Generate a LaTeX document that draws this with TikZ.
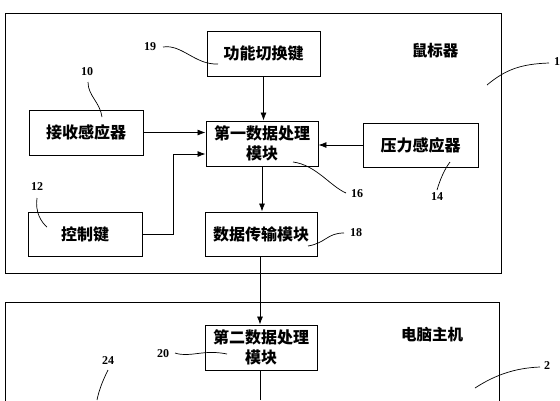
\documentclass[tikz,border=0pt]{standalone}
\usepackage{fontspec}
\setmainfont{Liberation Serif}
\newfontfamily\cjk{Noto Sans CJK SC}
\usetikzlibrary{arrows.meta}
\tikzset{
  box/.style={draw, line width=0.9pt, rectangle, align=center, inner sep=0pt,
    font=\cjk\bfseries\fontsize{16}{20}\selectfont},
  frame/.style={draw, line width=0.9pt},
  arr/.style={line width=0.8pt, -{Latex[length=8pt,width=6pt]}},
  lead/.style={line width=0.7pt},
  num/.style={font=\bfseries\fontsize{12}{12}\selectfont, inner sep=0pt},
  title/.style={font=\cjk\bfseries\fontsize{15.5}{15.5}\selectfont, inner sep=0pt}
}
\begin{document}
\begin{tikzpicture}[x=1pt,y=-1pt]
\useasboundingbox (0,0) rectangle (560,400);
\fill[white] (0,0) rectangle (560,400);
% outer frames
\draw[frame] (5,13) rectangle (501,273);
\begin{scope}
\clip (0,0) rectangle (560,400);
\draw[frame] (5,410) -- (5,302) -- (499,302) -- (499,410);
\end{scope}
% boxes
\node[box, minimum width=113pt, minimum height=45pt] (sw) at (263.5,53.5) {功能切换键};
\node[box, minimum width=114pt, minimum height=45pt] (rx) at (86,132.5) {接收感应器};
\node[box, minimum width=112pt, minimum height=45pt] (p1) at (262,143.5) {第一数据处理\\模块};
\node[box, minimum width=115pt, minimum height=44pt] (pr) at (420.5,145) {压力感应器};
\node[box, minimum width=114pt, minimum height=44pt] (ck) at (85,234) {控制键};
\node[box, minimum width=112pt, minimum height=44pt] (tx) at (261,234) {数据传输模块};
\node[box, minimum width=112pt, minimum height=45pt] (p2) at (261,347.5) {第二数据处理\\模块};
% titles
\node[title] (t1) at (435,51) {鼠标器};
\node[title] (t2) at (432,335) {电脑主机};
% connectors
\draw[arr] (sw.south) -- (sw.south |- p1.north);
\draw[arr] (rx.east) -- (rx.east -| p1.west);
\coordinate (c1) at (173,234);
\coordinate (c2) at (173,154);
\draw[arr] (ck.east) -- (c1) -- (c2) -- (c2 -| p1.west);
\draw[arr] (pr.west) -- (pr.west -| p1.east);
\draw[arr] (p1.south -| 262,0) -- (262,0 |- tx.north);
\draw[arr] (tx.south -| 260,0) -- (260,0 |- p2.north);
\coordinate (bot) at (260,400);
\draw[line width=0.8pt] (p2.south -| bot) -- (bot);
% reference numbers
\node[num] (n19) at (150,47) {19};
\draw[lead] (163,47) .. controls (182,44) and (195,65) .. (218,64);
\node[num] (n10) at (87,72) {10};
\draw[lead] (88,82) .. controls (88,96) and (100,102) .. (102,117);
\node[num] (n12) at (37,187) {12};
\draw[lead] (37,198) .. controls (35,212) and (41,222) .. (47,227);
\node[num] (n1) at (557,62) {1};
\draw[lead] (549,63) .. controls (520,64) and (505,70) .. (487,85);
\node[num] (n16) at (357,194) {16};
\draw[lead] (293,162) .. controls (316,165) and (330,186) .. (346,193);
\node[num] (n14) at (437,197) {14};
\draw[lead] (450,162) .. controls (444,170) and (440,180) .. (437,190);
\node[num] (n18) at (356,233) {18};
\draw[lead] (308,246) .. controls (326,243) and (327,233) .. (344,233);
\node[num] (n2) at (547,366) {2};
\draw[lead] (540,367) .. controls (515,368) and (495,375) .. (475,388);
\node[num] (n20) at (163,354) {20};
\draw[lead] (175,353) .. controls (190,358) and (203,349) .. (227,354);
\node[num] (n24) at (108,361) {24};
\draw[lead] (108,370) .. controls (103,380) and (99,390) .. (97,400);
\end{tikzpicture}
\end{document}
